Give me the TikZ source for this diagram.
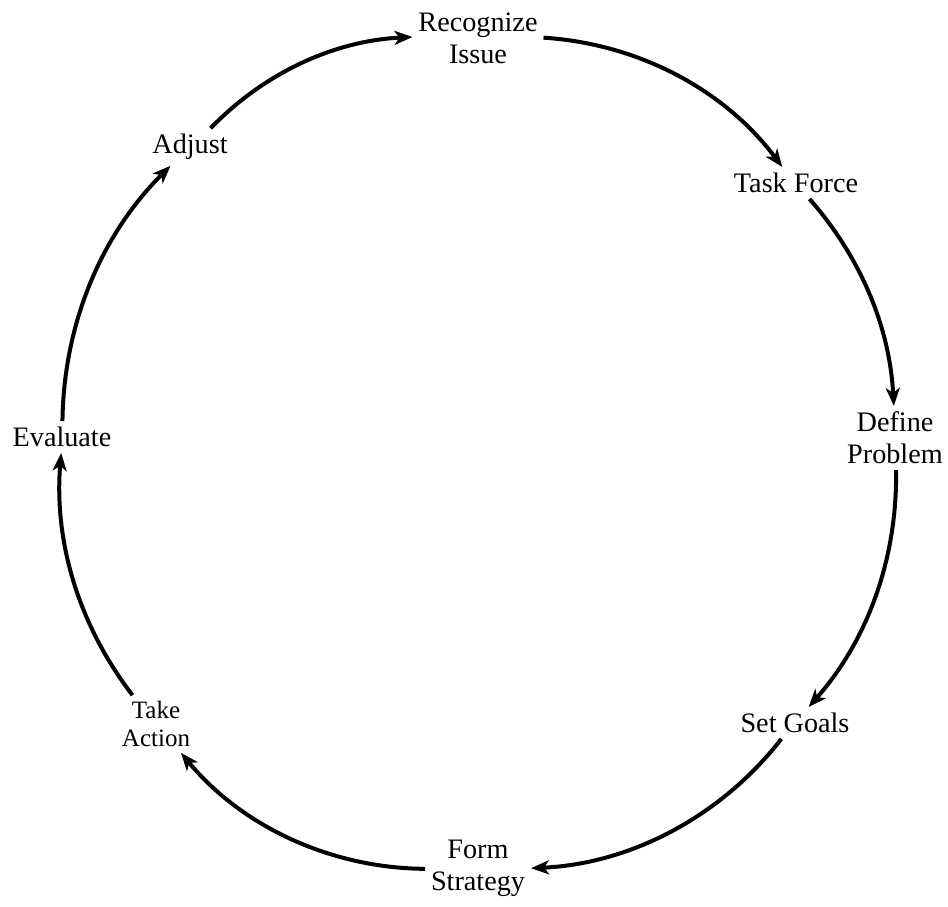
\documentclass[tikz,border=0pt]{standalone}
\usepackage{fontspec}
\setmainfont{Liberation Serif}
\usetikzlibrary{arrows.meta}

\begin{document}
\begin{tikzpicture}[x=0.5pt,y=0.5pt,>={Stealth[length=9pt,width=7pt,inset=2.5pt]},line width=2pt,
        stage/.style={align=center,inner sep=2pt,font=\fontsize{14.1}{16}\selectfont},
        link/.style={->,looseness=0.9,bend left=#1}]
        \useasboundingbox (-478,-453) rectangle (470,453);
        % stages round the cycle
        \node[stage] (issue) at (0,415) {Recognize\\Issue};
        \node[stage] (task) at (318,270) {Task Force};
        \node[stage] (define) at (417,15) {Define\\Problem};
        \node[stage] (goals) at (317,-270) {Set Goals};
        \node[stage] (strategy) at (0,-415) {Form\\Strategy};
        \node[stage,font=\fontsize{12.5}{14}\selectfont] (action) at (-322,-271) {Take\\Action};
        \node[stage] (evaluate) at (-416,16) {Evaluate};
        \node[stage] (adjust) at (-288,306) {Adjust};
        % arcs
        \draw[link=24.8] (issue) to (task);
        \draw[link=19.1] (task) to (define);
        \draw[link=21.2] (define) to (goals);
        \draw[link=24.8] (goals) to (strategy);
        \draw[link=25] (strategy) to (action);
        \draw[link=21.1] (action) to (evaluate);
        \draw[link=22.2] (evaluate) to (adjust);
        \draw[link=21.6] (adjust) to (issue);
\end{tikzpicture}
\end{document}
